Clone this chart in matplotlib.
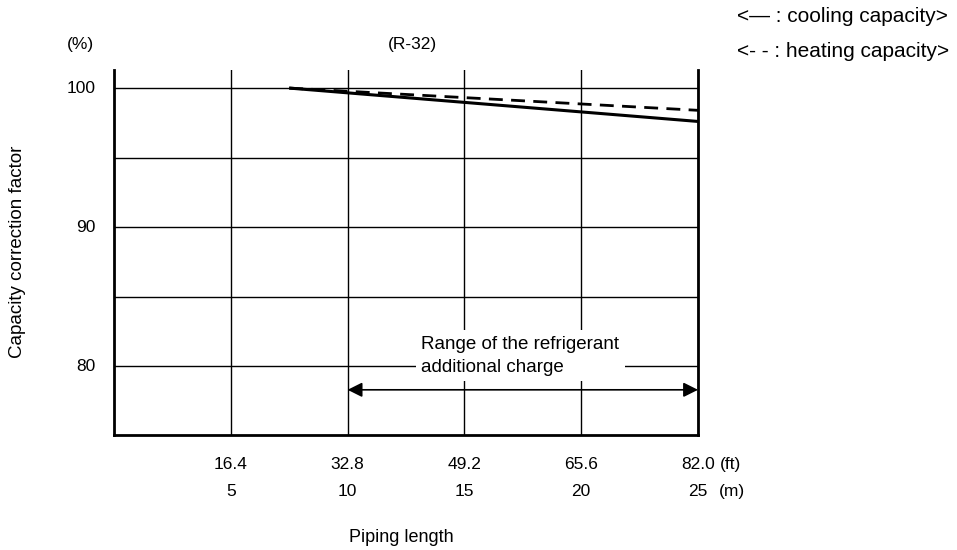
import matplotlib.pyplot as plt

plt.rcParams['font.family'] = ['Liberation Sans', 'DejaVu Sans']

# data (m -> %)
pipe_m = [7.5, 25]
cooling = [100.0, 97.6]
heating = [100.0, 98.4]
m_ticks = [5, 10, 15, 20, 25]
ft_labels = ['16.4', '32.8', '49.2', '65.6', '82.0']
y_grid = [80, 85, 90, 95, 100]
y_labels = [80, 90, 100]
range_m = [10, 25]
range_y = 78.3

fig = plt.figure(figsize=(9.57, 5.5), dpi=100)
ax = fig.add_axes([114 / 957, 1 - 435 / 550, 584 / 957, 365 / 550])
ax.set_xlim(0, 25)
ax.set_ylim(75.05, 101.3)

# grid
for x in m_ticks:
    ax.axvline(x, color='black', lw=1, zorder=1)
for y in y_grid:
    ax.axhline(y, color='black', lw=1, zorder=1)

ax.plot(pipe_m, cooling, color='black', lw=2.2, solid_capstyle='butt', zorder=3)
ax.plot(pipe_m, heating, color='black', lw=2, dashes=(5, 3), zorder=3)

# range arrow + label
ax.annotate('', xy=(range_m[1], range_y), xytext=(range_m[0], range_y),
            arrowprops=dict(arrowstyle='<|-|>', color='black', lw=1.2,
                            mutation_scale=22, shrinkA=0, shrinkB=0), zorder=4)
ax.text(13.15, 80.75, 'Range of the refrigerant\nadditional charge',
        ha='left', va='center', fontsize=13.5, linespacing=1.45, zorder=5,
        bbox=dict(facecolor='white', edgecolor='none', pad=4))

ax.set_xticks([])
ax.set_yticks([])
for s in ['left', 'bottom', 'right']:
    ax.spines[s].set_linewidth(2)
ax.spines['top'].set_visible(False)

# y labels
for y in y_labels:
    ax.text(-0.8, y, str(y), ha='right', va='center', fontsize=12.5)

# x labels, two rows (ft / m)
tr = ax.get_xaxis_transform()
for x, ft in zip(m_ticks, ft_labels):
    ax.text(x, -0.08, ft, ha='center', va='center', fontsize=12.5, transform=tr)
    ax.text(x, -0.155, str(x), ha='center', va='center', fontsize=12.5, transform=tr)
ax.text(25.95, -0.08, '(ft)', ha='left', va='center', fontsize=12.5, transform=tr)
ax.text(25.9, -0.155, '(m)', ha='left', va='center', fontsize=12.5, transform=tr)

fig.text(401 / 957, 1 - 538 / 550, 'Piping length', ha='center', va='center', fontsize=13)
fig.text(18 / 957, 1 - 252 / 550, 'Capacity correction factor', rotation=90,
         ha='center', va='center', fontsize=13.5)
fig.text(80 / 957, 1 - 45 / 550, '(%)', ha='center', va='center', fontsize=12.5)
fig.text(412 / 957, 1 - 45 / 550, '(R-32)', ha='center', va='center', fontsize=12.5)
fig.text(737 / 957, 1 - 17 / 550, '<— : cooling capacity>', ha='left', va='center', fontsize=15)
fig.text(737 / 957, 1 - 52 / 550, '<- - : heating capacity>', ha='left', va='center', fontsize=15)

fig.savefig('out.png', dpi=100, facecolor='white')
